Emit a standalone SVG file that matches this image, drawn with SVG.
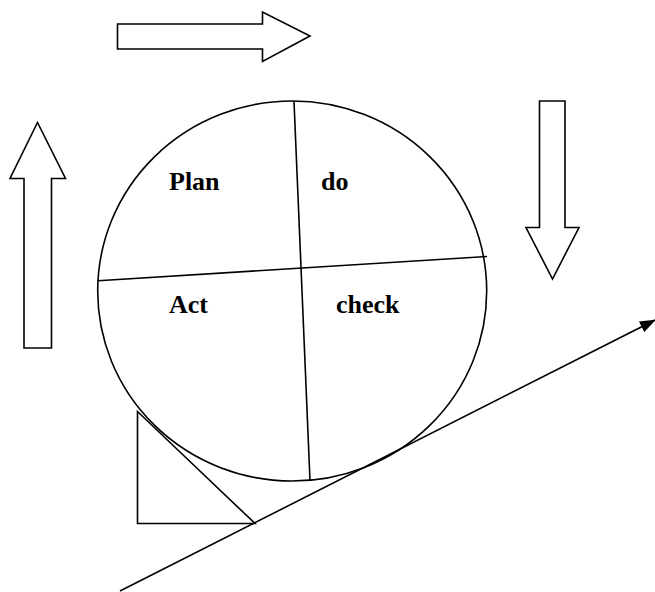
<svg xmlns="http://www.w3.org/2000/svg" width="655" height="592" viewBox="0 0 655 592">
  <style>
    .shape { fill: #ffffff; stroke: #000000; stroke-width: 1.6; stroke-linejoin: miter; }
    .line { fill: none; stroke: #000000; stroke-width: 1.6; }
    .label { font-family: "Liberation Serif", "Times New Roman", serif; font-weight: bold; font-size: 26px; fill: #000000; }
  </style>
  <defs>
    <marker id="arrowhead" markerWidth="16" markerHeight="12" refX="15" refY="6" orient="auto" markerUnits="userSpaceOnUse">
      <path d="M0,0 L16,6 L0,12 Z" fill="#000000"/>
    </marker>
  </defs>
  <rect width="655" height="592" fill="#ffffff"/>

  <!-- block arrows showing the cycle direction -->
  <g id="arrow-right">
    <polygon class="shape" points="117.5,24 262.5,24 262.5,12 310,36 262.5,61.5 262.5,49 117.5,49"/>
  </g>
  <g id="arrow-down">
    <polygon class="shape" points="539.5,101 565,101 565,227.5 579,227.5 552.5,279 526,227.5 539.5,227.5"/>
  </g>
  <g id="arrow-up">
    <polygon class="shape" points="24,348 51.5,348 51.5,178.5 65.5,178.5 37.5,122.5 10,178.5 24,178.5"/>
  </g>

  <!-- wedge holding the wheel -->
  <g id="wedge">
    <polygon class="shape" points="137.5,411.5 137.5,523.5 255,523.5"/>
  </g>

  <!-- PDCA wheel -->
  <g id="wheel">
    <ellipse class="shape" cx="292.2" cy="291" rx="194.5" ry="190"/>
    <line class="line" x1="294" y1="101.5" x2="310" y2="480.5"/>
    <line class="line" x1="98" y1="280.7" x2="487" y2="256.5"/>
  </g>
  <g id="plan"><text class="label" x="169" y="189.5">Plan</text></g>
  <g id="do"><text class="label" x="321" y="189.5">do</text></g>
  <g id="act"><text class="label" x="169" y="312.5">Act</text></g>
  <g id="check"><text class="label" x="336" y="312.5">check</text></g>

  <!-- incline the wheel rolls up -->
  <g id="connectors">
    <line class="line" x1="120" y1="591" x2="655" y2="320" marker-end="url(#arrowhead)"/>
  </g>
</svg>
